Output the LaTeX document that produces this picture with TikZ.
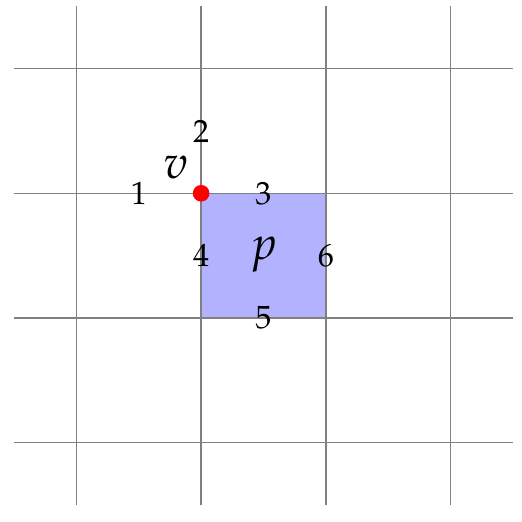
\documentclass[tikz,border=0pt]{standalone}
\usepackage[T1]{fontenc}
\usepackage{mathpazo}
\usepackage{xcolor}
\usetikzlibrary{positioning}

\begin{document}
\begin{tikzpicture}[
    x=1.5cm, y=1.5cm,
    font=\fontsize{11}{13}\selectfont,
    % Styles
    gridline/.style={draw=gray, line width=0.5pt},
    cell/.style={fill=blue!30, draw=none},
    vertex/.style={circle, fill=red, draw=none, inner sep=0pt, minimum size=0.2cm},
    namelabel/.style={font=\fontsize{16}{19}\selectfont},
    edgelabel/.style={inner sep=1pt}
]

% fixed margins
\useasboundingbox (-0.613,-0.628) rectangle (3.573,3.550);

% ----------------------------------------------------
% Pixel p and grid
% ----------------------------------------------------
\fill[cell] (1,1) rectangle (2,2);
\draw[gridline, step=1] (-0.5,-0.5) grid (3.5,3.5);

% Vertex v
\node[vertex] (v) at (1,2) {};
\node[namelabel] (vlabel) at (0.8,2.21) {$v$};
\node[namelabel] (plabel) at (1.5,1.51) {$p$};

% ----------------------------------------------------
% Edge numbers
% ----------------------------------------------------
\node[edgelabel] (e1) at (0.5,2) {1};
\node[edgelabel] (e2) at (1,2.5) {2};
\node[edgelabel] (e3) at (1.5,2) {3};
\node[edgelabel] (e4) at (1,1.5) {4};
\node[edgelabel] (e5) at (1.5,1) {5};
\node[edgelabel] (e6) at (2,1.5) {6};

\end{tikzpicture}
\end{document}
